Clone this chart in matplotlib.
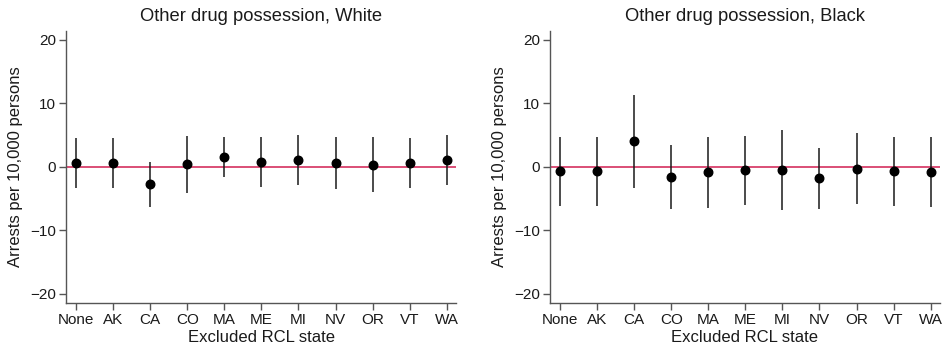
import numpy as np
import matplotlib
matplotlib.use("Agg")
import matplotlib.pyplot as plt

plt.rcParams['font.family'] = ['Liberation Sans', 'DejaVu Sans']

# Excluded states on the x axis
states = ['None', 'AK', 'CA', 'CO', 'MA', 'ME', 'MI', 'NV', 'OR', 'VT', 'WA']

# White: point estimate and 95% CI
white_est = [0.58, 0.63, -2.77, 0.37, 1.47, 0.68, 1.0, 0.58, 0.26, 0.58, 1.05]
white_lo = [-3.4, -3.3, -6.33, -4.08, -1.68, -3.2, -2.93, -3.46, -4.03, -3.4, -2.93]
white_hi = [4.45, 4.5, 0.79, 4.87, 4.6, 4.6, 4.92, 4.66, 4.6, 4.5, 4.92]

# Black: point estimate and 95% CI
black_est = [-0.68, -0.68, 4.03, -1.57, -0.89, -0.58, -0.58, -1.83, -0.37, -0.68, -0.84]
black_lo = [-6.13, -6.13, -3.3, -6.65, -6.5, -6.07, -6.8, -6.6, -5.92, -6.13, -6.33]
black_hi = [4.71, 4.71, 11.3, 3.46, 4.71, 4.82, 5.7, 2.93, 5.24, 4.71, 4.66]

panels = [
    ('Other drug possession, White', white_est, white_lo, white_hi),
    ('Other drug possession, Black', black_est, black_lo, black_hi),
]

fig = plt.figure(figsize=(9.43, 3.47), dpi=100)
lefts = [0.070, 0.5832]
axis_color = '#555555'
text_color = '#1a1a1a'

for left, (title, est, lo, hi) in zip(lefts, panels):
    ax = fig.add_axes([left, 0.126, 0.4136, 0.7855])
    x = np.arange(len(states))
    ax.axhline(0, color='#d4305f', linewidth=1.2, zorder=1)
    ax.vlines(x, lo, hi, color='#1a1a1a', linewidth=1.1, zorder=2)
    ax.scatter(x, est, s=38, color='black', zorder=3)

    ax.set_xlim(-0.27, 10.25)
    ax.set_ylim(-21.5, 21.4)
    ax.set_yticks([-20, -10, 0, 10, 20])
    ax.set_yticklabels(['\u221220', '\u221210', '0', '10', '20'])
    ax.set_xticks(x)
    ax.set_xticklabels(states)

    for side in ['top', 'right']:
        ax.spines[side].set_visible(False)
    for side in ['left', 'bottom']:
        ax.spines[side].set_color(axis_color)
        ax.spines[side].set_linewidth(1.0)
    ax.tick_params(axis='both', direction='out', length=5, width=1.0,
                   color=axis_color, labelsize=11, labelcolor=text_color, pad=2)

    ax.set_title(title, fontsize=13.2, color=text_color, pad=7)
    ax.set_xlabel('Excluded RCL state', fontsize=12, color=text_color, labelpad=2)
    ax.set_ylabel('Arrests per 10,000 persons', fontsize=12, color=text_color, labelpad=5)

fig.savefig('out.png', dpi=100)
